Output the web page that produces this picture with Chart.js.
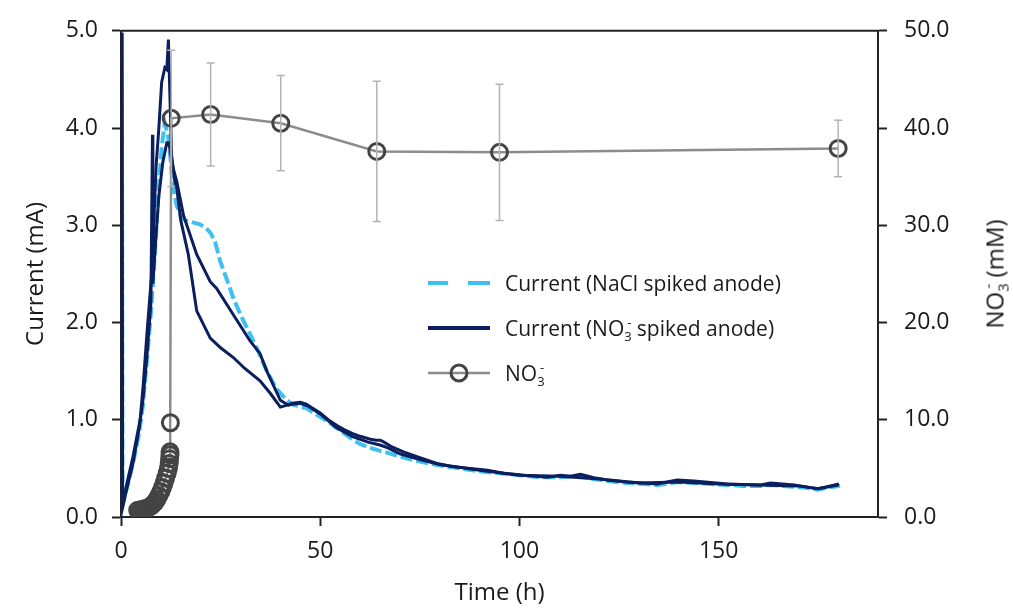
<!DOCTYPE html>
<html>
<head>
<meta charset="utf-8">
<script src="https://cdn.jsdelivr.net/npm/chart.js@4"></script>
<style>
  body { margin: 0; background: #fff; }
  #wrap { position: relative; width: 1013px; height: 609px; font-family: "Open Sans", "Noto Sans", sans-serif; color: #1a1a1a; }
  .leg { position: absolute; left: 428px; font-size: 21px; height: 28px; display: flex; align-items: center; white-space: nowrap; }
  .leg svg { margin-right: 15px; }
  .sb { font-size: 0.62em; position: relative; top: 0.35em; }
  .sp { font-size: 0.62em; position: relative; top: -0.7em; margin-left: -0.35em; }
  #ytitle2 { position: absolute; left: 994px; top: 274px; transform: translate(-50%, -50%) rotate(-90deg); font-size: 24px; white-space: nowrap; }
</style>
</head>
<body>
<div id="wrap">
  <canvas id="chart"></canvas>
  <div class="leg" style="top:269px">
    <svg width="62" height="10"><line x1="0" y1="5" x2="20" y2="5" stroke="#3ec1f0" stroke-width="4"/><line x1="40" y1="5" x2="62" y2="5" stroke="#3ec1f0" stroke-width="4"/></svg>
    <span>Current (NaCl spiked anode)</span>
  </div>
  <div class="leg" style="top:314px">
    <svg width="62" height="10"><line x1="0" y1="5" x2="62" y2="5" stroke="#0b1f5e" stroke-width="4"/></svg>
    <span>Current (NO<span class="sb">3</span><span class="sp">-</span> spiked anode)</span>
  </div>
  <div class="leg" style="top:359px">
    <svg width="62" height="22"><line x1="0" y1="11" x2="62" y2="11" stroke="#8c8c8c" stroke-width="2.5"/><circle cx="31" cy="11" r="8" fill="none" stroke="#444" stroke-width="3"/></svg>
    <span>NO<span class="sb">3</span><span class="sp">-</span></span>
  </div>
  <div id="ytitle2">NO<span class="sb">3</span><span class="sp">-</span>&nbsp;(mM)</div>
</div>
<script>
// current, NaCl spiked anode (mA)
const naclTime = [0, 0.2, 0.4, 1.5, 3, 4.5, 5.5, 6.5, 7.5, 8.5, 9.5, 10.2, 11, 11.9, 12.5, 13.1, 14, 15, 16.1, 18, 19.8, 21.4, 22.5, 23.6, 24.9, 26.5, 28.2, 30, 32.4, 34.5, 36.6, 39, 41.6, 43, 45, 46.5, 48, 50, 52, 54, 56, 58, 60, 62.5, 65, 67, 70, 75, 80, 85, 90, 95, 100, 105, 110, 115, 118.7, 122, 127, 131, 134.6, 137, 139.6, 143.8, 148, 152, 156, 160.6, 163, 166, 169, 172, 174.8, 177, 180.5];
const naclCurrent = [0.1, 4.98, 0.12, 0.3, 0.55, 0.85, 1.15, 1.6, 2.1, 2.7, 3.4, 3.8, 4.05, 3.9, 3.65, 3.38, 3.2, 3.1, 3.05, 3.03, 3.01, 2.97, 2.92, 2.83, 2.63, 2.45, 2.25, 2.08, 1.88, 1.7, 1.5, 1.32, 1.2, 1.16, 1.13, 1.12, 1.08, 1.03, 0.98, 0.92, 0.86, 0.8, 0.75, 0.71, 0.68, 0.66, 0.62, 0.57, 0.53, 0.5, 0.47, 0.45, 0.43, 0.41, 0.41, 0.42, 0.39, 0.37, 0.35, 0.34, 0.33, 0.34, 0.36, 0.35, 0.34, 0.33, 0.32, 0.32, 0.33, 0.32, 0.31, 0.3, 0.28, 0.3, 0.32];

// current, NO3- spiked anode, run A (mA)
const no3aTime = [0, 0.2, 0.4, 1.5, 3, 4.8, 5.6, 6.5, 7.7, 8.8, 9.5, 10.2, 11, 11.5, 11.9, 12.3, 12.7, 13.5, 14, 15, 16.9, 19, 22.4, 25, 28.2, 31, 34.9, 37.5, 40, 41.7, 43, 45, 46.5, 48, 50, 52, 54.2, 56, 58, 60, 62.6, 64, 65.1, 66, 68, 70.9, 75, 79.3, 83, 87.7, 92, 96, 101, 107, 110.3, 112.8, 115.3, 118.7, 122, 127, 131, 134.6, 137, 139.6, 143.8, 148, 152.2, 156, 160.6, 163, 166, 169, 172, 174.8, 177, 180.2];
const no3aCurrent = [0.1, 4.98, 0.12, 0.35, 0.62, 1.0, 1.37, 1.88, 2.5, 3.6, 4.0, 4.47, 4.62, 4.6, 4.91, 4.3, 3.72, 3.45, 3.38, 3.05, 2.7, 2.12, 1.84, 1.74, 1.64, 1.53, 1.4, 1.27, 1.13, 1.15, 1.17, 1.18, 1.16, 1.12, 1.07, 1.0, 0.94, 0.9, 0.86, 0.83, 0.8, 0.79, 0.79, 0.77, 0.72, 0.67, 0.61, 0.55, 0.52, 0.5, 0.48, 0.45, 0.43, 0.41, 0.43, 0.42, 0.44, 0.405, 0.38, 0.36, 0.35, 0.34, 0.36, 0.38, 0.37, 0.355, 0.34, 0.335, 0.33, 0.35, 0.34, 0.33, 0.31, 0.29, 0.31, 0.34];

// current, NO3- spiked anode, run B (mA)
const no3bTime = [0, 0.2, 0.4, 1.5, 3, 4.5, 5.5, 6.5, 7.5, 7.9, 8.0, 8.8, 9.5, 10.5, 11.5, 12, 13, 14, 15.7, 19, 22.4, 24, 28.2, 32.4, 34.9, 36.6, 40, 42, 43, 45, 47, 50, 54, 58, 62, 65, 67, 70, 75, 80, 90, 100, 110, 120, 130, 140, 150, 160, 170, 175, 180];
const no3bCurrent = [0.1, 4.98, 0.1, 0.3, 0.55, 0.9, 1.2, 1.65, 2.2, 3.93, 2.4, 2.9, 3.3, 3.65, 3.85, 3.85, 3.6, 3.45, 3.1, 2.7, 2.42, 2.35, 2.08, 1.81, 1.68, 1.5, 1.2, 1.15, 1.16, 1.17, 1.14, 1.06, 0.92, 0.83, 0.77, 0.74, 0.71, 0.65, 0.59, 0.54, 0.48, 0.43, 0.42, 0.39, 0.35, 0.36, 0.34, 0.33, 0.32, 0.29, 0.33];

// nitrate concentration (mM) with standard deviation
const nitrateTime = [4.2, 4.6, 5.0, 5.5, 6.0, 6.5, 7.0, 7.5, 8.0, 8.5, 9.0, 9.5, 10.0, 10.4, 10.8, 11.2, 11.6, 11.9, 12.1, 12.2, 12.3, 12.3, 12.4, 12.6, 22.5, 40.1, 64.2, 95, 180];
const nitrateConc = [0.7, 0.7, 0.75, 0.8, 0.85, 0.9, 1.0, 1.1, 1.3, 1.5, 1.8, 2.2, 2.6, 3.0, 3.5, 4.0, 4.5, 5.0, 5.5, 6.0, 6.4, 6.7, 9.7, 41.0, 41.4, 40.5, 37.6, 37.5, 37.9];
const nitrateErr = [0, 0, 0, 0, 0, 0, 0, 0, 0, 0, 0, 0, 0, 0, 0, 0, 0, 0, 0, 0, 0, 0, 0, 7.0, 5.3, 4.9, 7.2, 7.0, 2.9];

const xTicks = [0, 50, 100, 150];

const pairs = (xs, ys) => xs.map((x, i) => ({ x: x, y: ys[i] }));

const errorBars = {
  id: "errorBars",
  afterDatasetsDraw(chart) {
    const ctx = chart.ctx;
    const xs = chart.scales.x;
    const ys = chart.scales.y2;
    ctx.save();
    ctx.strokeStyle = "#b3b3b3";
    ctx.lineWidth = 1.5;
    nitrateTime.forEach((t, i) => {
      const e = nitrateErr[i];
      if (!e) return;
      const px = xs.getPixelForValue(t);
      const top = ys.getPixelForValue(nitrateConc[i] + e);
      const bot = ys.getPixelForValue(nitrateConc[i] - e);
      ctx.beginPath();
      ctx.moveTo(px, top); ctx.lineTo(px, bot);
      ctx.moveTo(px - 4, top); ctx.lineTo(px + 4, top);
      ctx.moveTo(px - 4, bot); ctx.lineTo(px + 4, bot);
      ctx.stroke();
    });
    ctx.restore();
  },
};

const topBorder = {
  id: "topBorder",
  afterDraw(chart) {
    const a = chart.chartArea;
    const ctx = chart.ctx;
    ctx.save();
    ctx.strokeStyle = "#222";
    ctx.lineWidth = 2;
    ctx.beginPath();
    ctx.moveTo(a.left, a.top);
    ctx.lineTo(a.right, a.top);
    ctx.stroke();
    ctx.restore();
  },
};

Chart.defaults.font.family = "'Open Sans', 'Noto Sans', sans-serif";
Chart.defaults.color = "#1a1a1a";

const canvas = document.getElementById("chart");
canvas.width = 1013;
canvas.height = 609;

new Chart(canvas.getContext("2d"), {
  type: "line",
  data: {
    datasets: [
      {
        label: "NO3-",
        data: pairs(nitrateTime, nitrateConc),
        yAxisID: "y2",
        borderColor: "#8c8c8c",
        borderWidth: 2.5,
        pointRadius: 8,
        pointBorderWidth: 3,
        pointBorderColor: "#444",
        pointBackgroundColor: "rgba(255,255,255,0)",
        order: 0,
      },
      {
        label: "Current (NO3- spiked anode)",
        data: pairs(no3aTime, no3aCurrent),
        yAxisID: "y",
        borderColor: "#0b1f5e",
        borderWidth: 3,
        pointRadius: 0,
        order: 1,
      },
      {
        label: "Current (NO3- spiked anode) B",
        data: pairs(no3bTime, no3bCurrent),
        yAxisID: "y",
        borderColor: "#0b1f5e",
        borderWidth: 3,
        pointRadius: 0,
        order: 1,
      },
      {
        label: "Current (NaCl spiked anode)",
        data: pairs(naclTime, naclCurrent),
        yAxisID: "y",
        borderColor: "#3ec1f0",
        borderWidth: 4,
        borderDash: [12, 4],
        pointRadius: 0,
        order: 2,
      },
    ],
  },
  options: {
    responsive: false,
    animation: false,
    layout: { padding: { top: 28, left: 0, right: 0, bottom: 0 } },
    plugins: {
      legend: { display: false },
      tooltip: { enabled: false },
    },
    scales: {
      x: {
        type: "linear",
        min: 0,
        max: 190,
        afterBuildTicks: (axis) => {
          axis.ticks = xTicks.map((v) => ({ value: v }));
        },
        afterFit: (scale) => { scale.height = 92; },
        border: { display: true, color: "#222", width: 2 },
        grid: { drawOnChartArea: false, drawTicks: true, tickLength: 9, tickColor: "#222", tickWidth: 2 },
        ticks: { font: { size: 23 }, padding: 12, maxRotation: 0 },
        title: { display: true, text: "Time (h)", font: { size: 24 }, padding: { top: 0, bottom: 1 } },
      },
      y: {
        position: "left",
        min: 0,
        max: 5,
        afterFit: (scale) => { scale.width = 121; },
        border: { display: true, color: "#222", width: 2 },
        grid: { drawOnChartArea: false, drawTicks: true, tickLength: 9, tickColor: "#222", tickWidth: 2 },
        ticks: { stepSize: 1, font: { size: 23 }, padding: 14, callback: (v) => v.toFixed(1) },
        title: { display: true, text: "Current (mA)", font: { size: 24 }, padding: { top: 22, bottom: 0 } },
      },
      y2: {
        position: "right",
        min: 0,
        max: 50,
        afterFit: (scale) => { scale.width = 135; },
        border: { display: true, color: "#222", width: 2 },
        grid: { drawOnChartArea: false, drawTicks: true, tickLength: 9, tickColor: "#222", tickWidth: 2 },
        ticks: { stepSize: 10, font: { size: 23 }, padding: 17, callback: (v) => v.toFixed(1) },
        title: { display: false },
      },
    },
  },
  plugins: [errorBars, topBorder],
});
</script>
</body>
</html>
